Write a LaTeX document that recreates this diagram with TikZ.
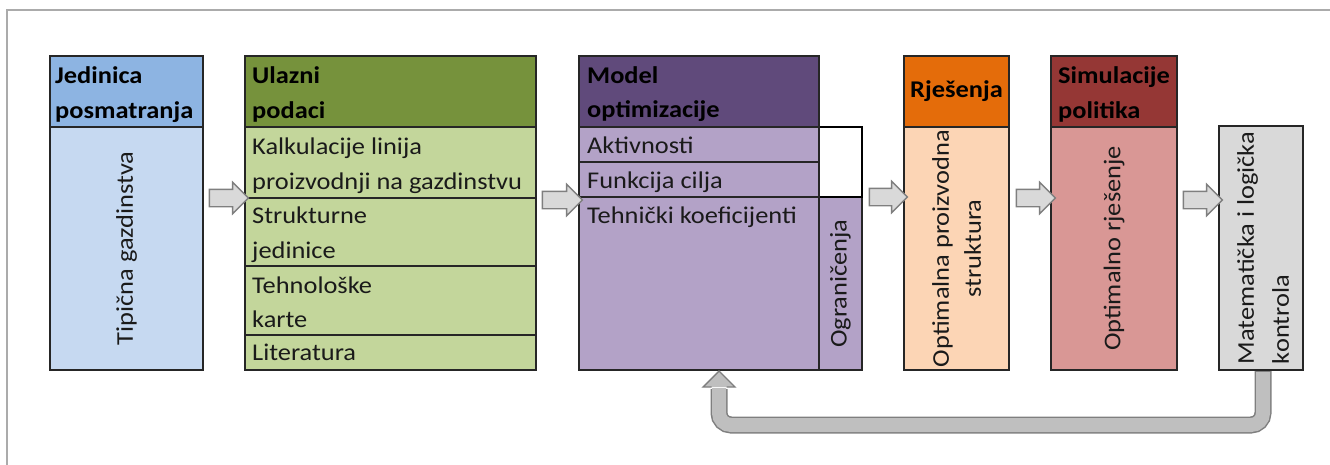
\documentclass[tikz,border=0pt]{standalone}
\usepackage{fontspec}
\setmainfont{Carlito}[FakeStretch=1.1]
\usetikzlibrary{shapes.arrows}
\definecolor{bordc}{HTML}{262626}
\definecolor{framec}{HTML}{ABABAB}
\definecolor{hblue}{HTML}{8DB4E2}
\definecolor{bblue}{HTML}{C6D9F1}
\definecolor{hgreen}{HTML}{76923C}
\definecolor{bgreen}{HTML}{C3D69B}
\definecolor{hpurp}{HTML}{604A7B}
\definecolor{bpurp}{HTML}{B3A2C7}
\definecolor{horange}{HTML}{E46C0A}
\definecolor{borange}{HTML}{FCD5B5}
\definecolor{hred}{HTML}{953735}
\definecolor{bred}{HTML}{D99795}
\definecolor{bgray}{HTML}{D9D9D9}
\definecolor{arrfill}{HTML}{D9D9D9}
\definecolor{arrline}{HTML}{7F7F7F}
\definecolor{fbfill}{HTML}{BFBFBF}
\definecolor{txtc}{HTML}{1A1A1A}
\newcommand\mytxt[4]{\node[txt] (#1) at (#2,#3) {#4};}
\newcommand\myhead[4]{\node[txt,font=\fontsize{24}{34.5}\selectfont\bfseries,text=black] (#1) at (#2,#3) {#4};}
\begin{document}
\begin{tikzpicture}[x=1pt,y=-1pt,
  cell/.style={draw=bordc, line width=2.6, outer sep=0pt, inner sep=0pt, anchor=north west},
  txt/.style={anchor=base west, inner sep=0pt, text=txtc, font=\fontsize{24}{34.5}\selectfont},
  rot/.style={rotate=90, inner sep=0pt, text=txtc, font=\fontsize{24}{34.5}\selectfont},
  sep/.style={draw=bordc, line width=1.8},
  barrow/.style={single arrow, draw=arrline, fill=arrfill, line width=1.4,
     inner xsep=0pt, inner ysep=8pt, single arrow head extend=7pt, minimum width=30pt, outer sep=0pt}
]
\useasboundingbox (0,0) rectangle (1330,464);
% frame
\draw[framec, line width=2] (7,480) -- (7,10) -- (1340,10);

% box 1
\node[cell, fill=hblue, minimum width=153, minimum height=71] (h1) at (50,56) {};
\node[cell, fill=bblue, minimum width=153, minimum height=243] (b1) at (50,127) {};
\myhead{t11}{55}{83}{Jedinica}
\myhead{t12}{55}{118}{posmatranja}
\node[rot] (t13) at (b1.center) {Tipična gazdinstva};

% box 2
\node[cell, fill=hgreen, minimum width=291, minimum height=71] (h2) at (245,56) {};
\node[cell, fill=bgreen, minimum width=291, minimum height=243] (b2) at (245,127) {};
\draw[sep] (245,198) -- (536,198);
\draw[sep] (245,266) -- (536,266);
\draw[sep] (245,335) -- (536,335);
\draw[cell] (b2.north west) rectangle (b2.south east);
\myhead{t21}{252}{83}{Ulazni}
\myhead{t22}{252}{118}{podaci}
\mytxt{t23}{252}{154}{Kalkulacije linija}
\mytxt{t24}{252}{189}{proizvodnji na gazdinstvu}
\mytxt{t25}{252}{223}{Strukturne}
\mytxt{t26}{252}{258}{jedinice}
\mytxt{t27}{252}{293}{Tehnološke}
\mytxt{t28}{252}{327}{karte}
\mytxt{t29}{252}{360}{Literatura}

% box 3
\node[cell, fill=hpurp, minimum width=240, minimum height=71] (h3) at (579,56) {};
\node[cell, fill=bpurp, minimum width=240, minimum height=243] (b3) at (579,127) {};
\draw[sep] (579,162) -- (819,162);
\draw[sep] (579,197) -- (819,197);
\draw[black, line width=2] (819,127) -- (862,127) -- (862,197);
\node[cell, fill=bpurp, minimum width=43, minimum height=173] (og) at (819,197) {};
\draw[black, line width=2.6] (819,197) -- (863,197);
\draw[cell] (b3.north west) rectangle (b3.south east);
\myhead{t31}{587}{83}{Model}
\myhead{t32}{587}{117}{optimizacije}
\mytxt{t33}{587}{153}{Aktivnosti}
\mytxt{t34}{587}{188}{Funkcija cilja}
\mytxt{t35}{587}{223}{Tehnički koeficijenti}
\node[rot] (t36) at (og.center) {Ograničenja};

% box 4
\node[cell, fill=horange, minimum width=105, minimum height=71] (h4) at (904,56) {};
\node[cell, fill=borange, minimum width=105, minimum height=243] (b4) at (904,127) {};
\node[inner sep=0pt, text=black, font=\fontsize{24}{34.5}\selectfont\bfseries] (t41) at (h4.center) {Rješenja};
\node[rot, align=center, font=\fontsize{24}{32}\selectfont] (t42) at (b4.center) {Optimalna proizvodna\\struktura};

% box 5
\node[cell, fill=hred, minimum width=126, minimum height=71] (h5) at (1051,56) {};
\node[cell, fill=bred, minimum width=126, minimum height=243] (b5) at (1051,127) {};
\myhead{t51}{1058}{83}{Simulacije}
\myhead{t52}{1058}{118}{politika}
\node[rot] (t53) at (b5.center) {Optimalno rješenje};

% box 6
\node[cell, fill=bgray, minimum width=84, minimum height=244] (b6) at (1219,126) {};
\node[rot, align=left, font=\fontsize{24}{35}\selectfont] (t61) at ([xshift=2pt]b6.center) {Matematička i logička\\kontrola};

% block arrows
\node[barrow, minimum height=39pt] (a1) at (224.5,198) {};
\node[barrow, minimum height=40pt] (a2) at (558,200) {};
\node[barrow, minimum height=38pt] (a3) at (884,197) {};
\node[barrow, minimum height=39pt] (a4) at (1031.5,198) {};
\node[barrow, minimum height=39pt] (a5) at (1198.5,200) {};

% feedback arrow
\coordinate (fbs) at (1263,371);
\coordinate (fbe) at (719,389);
\draw[arrline, line width=17, rounded corners=12] (fbs) -- (1263,425) -- (719,425) -- (fbe);
\draw[fbfill, line width=14, rounded corners=12] ([yshift=-1]fbs) -- (1263,425) -- (719,425) -- ([yshift=1]fbe);
\fill[fbfill] (703,387) -- (719,371) -- (735,387) -- cycle;
\draw[arrline, line width=1.4, line join=miter] (711.5,387) -- (703,387) -- (719,371) -- (735,387) -- (726.5,387);
\end{tikzpicture}
\end{document}
